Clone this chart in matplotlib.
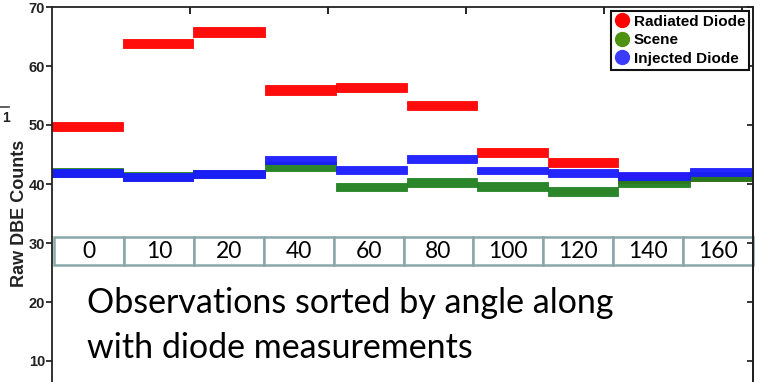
import numpy as np
import matplotlib
matplotlib.use("Agg")
import matplotlib.pyplot as plt
from matplotlib.lines import Line2D

# ---- data ------------------------------------------------------------------
angles = ["0", "10", "20", "40", "60", "80", "100", "120", "140", "160"]
seg_counts = [514, 508, 521, 515, 514, 508, 514, 507, 522, 450]   # observations per angle

radiated = [49.7, 63.8, 65.8, 55.9, 56.4, 53.3, 45.3, 43.6, 41.0, 41.3]
scene    = [42.0, 41.3, 41.7, 43.0, 39.5, 40.3, 39.6, 38.8, 40.3, 41.2]
injected = [41.9, 41.2, 41.7, 44.1, 42.4, 44.2, 42.3, 41.9, 41.4, 42.0]
spread = {"Radiated Diode": 0.8, "Scene": 0.75, "Injected Diode": 0.65}

yticks = [10, 20, 30, 40, 50, 60, 70]

RED, GREEN, BLUE = "#ff0000", "#1f7f1f", "#1a1aff"

fig = plt.figure(figsize=(7.59, 3.82), dpi=100)
fig.patch.set_facecolor("white")
ax = fig.add_axes([52 / 759, 0, 701 / 759, 375 / 382])

edges = np.concatenate([[0], np.cumsum(seg_counts)])
series = [("Radiated Diode", radiated, RED),
          ("Scene", scene, GREEN),
          ("Injected Diode", injected, BLUE)]
for name, levels, col in series:
    h = spread[name]
    for i, lev in enumerate(levels):
        xs = [edges[i], edges[i + 1]]
        ax.fill_between(xs, lev - h, lev + h, color=col, lw=0.6,
                        edgecolor=col, alpha=0.95)

ax.set_xlim(0, 5080)
ax.set_ylim(70 - 375 / 5.9, 70)

# axes styling (MATLAB-ish box, bottom cut off by the image)
for sp in ("left", "right", "top"):
    ax.spines[sp].set_linewidth(1.3)
    ax.spines[sp].set_color("#222222")
ax.spines["bottom"].set_visible(False)
ax.xaxis.set_ticks_position("top")
ax.set_xticks([1000, 2000, 3000, 4000, 5000])
ax.tick_params(axis="x", direction="in", length=5, width=1.2, labeltop=False)
ax.set_yticks(yticks, labels=[str(v) for v in yticks], fontsize=10.5,
              fontweight="bold", family="Liberation Sans", color="#222222")
ax.tick_params(axis="y", direction="out", length=4, width=1.1, pad=1)
sec = ax.secondary_yaxis("right")
sec.set_yticks(yticks)
sec.tick_params(direction="in", length=4, width=1.1, labelright=False)
sec.spines["right"].set_linewidth(1.3)

fig.text(20 / 759, 1 - 213 / 382, "Raw DBE Counts", rotation=90, ha="center",
         va="center", fontsize=13, fontweight="bold", family="Liberation Sans",
         color="#222222")
# leftover exponent mark at far left
fig.text(6 / 759, 1 - 118 / 382, "1", ha="center", va="center", fontsize=10,
         fontweight="bold", family="Liberation Sans", color="#222222")
fig.add_artist(Line2D([0, 9 / 759], [1 - 107 / 382] * 2, color="#444444", lw=1.2))

# legend
handles = [Line2D([], [], ls="none", marker="o", ms=10, color=c, mec=c)
           for c in (RED, "#4e9010", "#3b3bff")]
leg = ax.legend(handles, [s[0] for s in series], loc="upper right",
                prop={"family": "Liberation Sans", "weight": "bold", "size": 11},
                handlelength=0.9, handletextpad=0.35, labelspacing=0.3,
                borderpad=0.25, borderaxespad=0.25, fancybox=False, framealpha=1)
leg.get_frame().set_edgecolor("#111111")
leg.get_frame().set_linewidth(1.5)

# angle table overlay
tbl = ax.table(cellText=[angles], cellLoc="center",
               bbox=[2 / 701, (382 - 265) / 375, 699 / 701, 28 / 375])
tbl.auto_set_font_size(False)
tbl.set_fontsize(16.5)
for cell in tbl.get_celld().values():
    cell.set_edgecolor("#8aa6a8")
    cell.set_linewidth(1.8)
    cell.set_facecolor("white")
    cell.get_text().set_fontfamily("Lato")
    cell.get_text().set_color("black")

ax.text(254, 18.1, "Observations sorted by angle along", fontsize=24.5,
        family="Lato", va="baseline", ha="left", color="black")
ax.text(254, 10.5, "with diode measurements", fontsize=24.5,
        family="Lato", va="baseline", ha="left", color="black")

fig.savefig("out.png", dpi=100)
